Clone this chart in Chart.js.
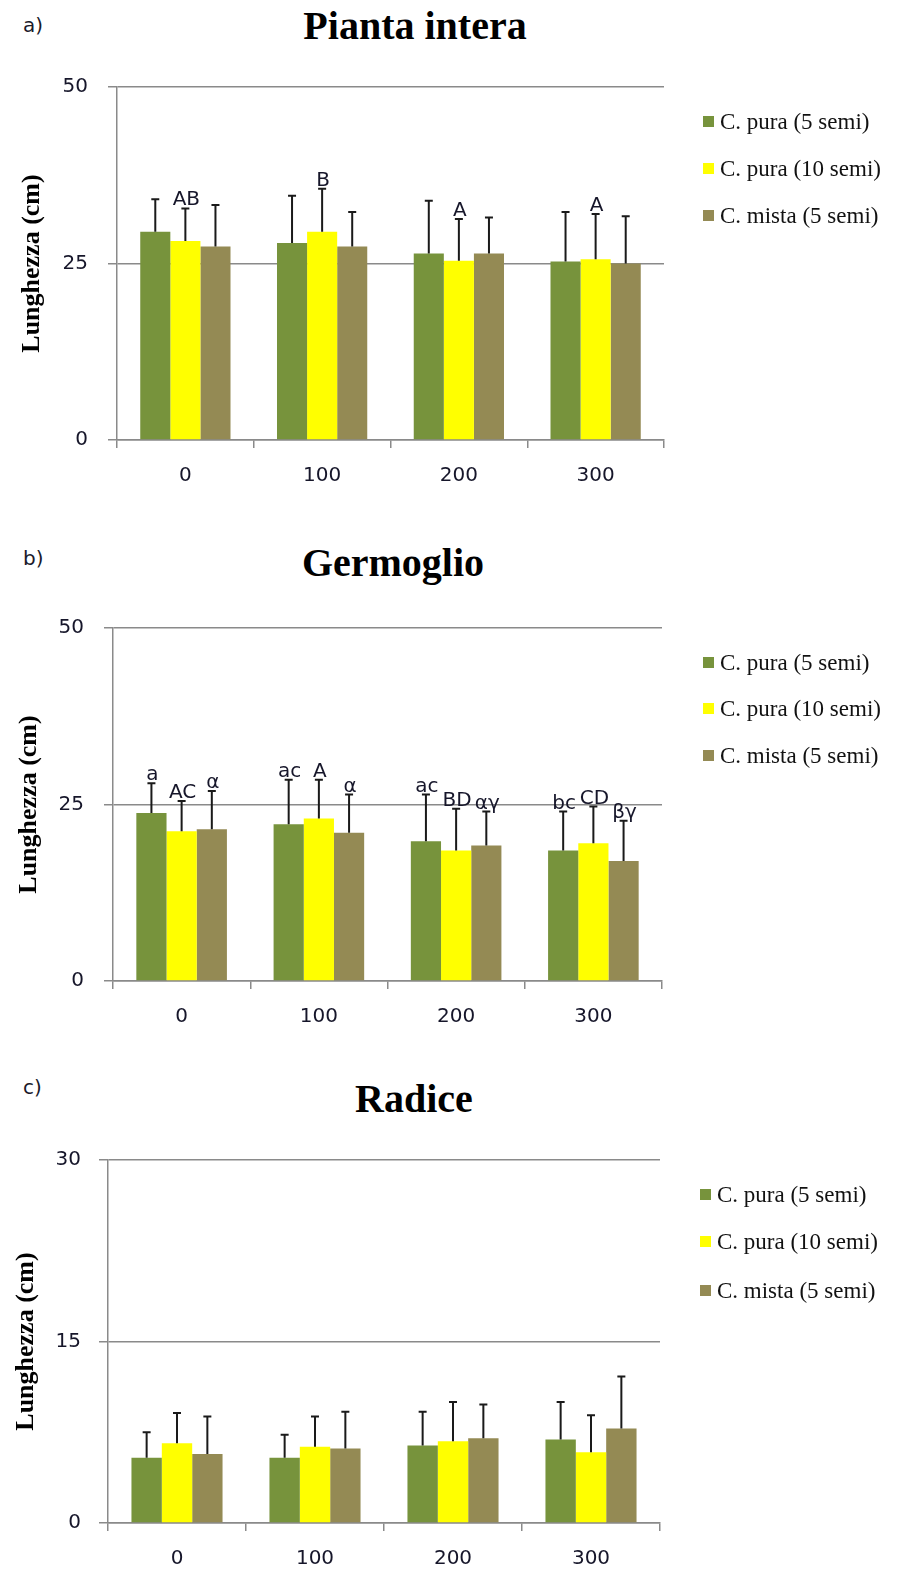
<!DOCTYPE html>
<html>
<head>
<meta charset="utf-8">
<script src="https://cdn.jsdelivr.net/npm/chart.js@4.4.1/dist/chart.umd.min.js"></script>
<style>
  body { margin: 0; background: #fff; width: 902px; height: 1569px; position: relative; overflow: hidden; }
  canvas { position: absolute; left: 0; }
  .lbl { position: absolute; left: 23px; font-family: "DejaVu Sans"; font-size: 20px; line-height: 20px; color: #1a1a2a; }
  .ttl { position: absolute; font-family: "Liberation Serif"; font-weight: bold; font-size: 40px; line-height: 40px; color: #000; transform: translateX(-50%); white-space: nowrap; }
  .leg { position: absolute; font-family: "Liberation Serif"; font-size: 23px; line-height: 23px; color: #111; display: flex; align-items: center; white-space: nowrap; }
  .leg span { display: inline-block; width: 11px; height: 11px; margin-right: 6px; }
</style>
</head>
<body>
<div class="lbl" style="top:15px">a)</div>
<div class="ttl" style="left:415px;top:6px">Pianta intera</div>
<canvas id="chartA" width="902" height="500" style="top:0px"></canvas>

<div class="lbl" style="top:548px">b)</div>
<div class="ttl" style="left:393px;top:543px">Germoglio</div>
<canvas id="chartB" width="902" height="500" style="top:540px"></canvas>

<div class="lbl" style="top:1077px">c)</div>
<div class="ttl" style="left:414px;top:1079px">Radice</div>
<canvas id="chartC" width="902" height="513" style="top:1060px"></canvas>

<div id="legends"></div>

<script>
// categories and series
const categories = ["0", "100", "200", "300"];
const seriesNames = ["C. pura (5 semi)", "C. pura (10 semi)", "C. mista (5 semi)"];
const seriesColors = ["#77933C", "#FFFF00", "#948A54"];

// a) Pianta intera
const piantaPura5 = [29.5, 27.9, 26.4, 25.3];
const piantaPura5Err = [4.6, 6.7, 7.5, 7.0];
const piantaPura10 = [28.2, 29.5, 25.4, 25.6];
const piantaPura10Err = [4.6, 6.1, 5.9, 6.4];
const piantaMista5 = [27.4, 27.4, 26.4, 25.0];
const piantaMista5Err = [5.9, 4.9, 5.1, 6.7];
const piantaMarks10 = ["AB", "B", "A", "A"];

// b) Germoglio
const germPura5 = [23.8, 22.2, 19.8, 18.5];
const germPura5Err = [4.2, 6.3, 6.6, 5.5];
const germPura10 = [21.2, 23.0, 18.5, 19.5];
const germPura10Err = [4.3, 5.5, 5.9, 5.2];
const germMista5 = [21.5, 21.0, 19.2, 17.0];
const germMista5Err = [5.4, 5.4, 4.8, 5.7];
const germMarks5 = ["a", "ac", "ac", "bc"];
const germMarks10 = ["AC", "A", "BD", "CD"];
const germMarksMista = ["α", "α", "αγ", "βγ"];

// c) Radice
const radPura5 = [5.4, 5.4, 6.4, 6.9];
const radPura5Err = [2.1, 1.9, 2.8, 3.1];
const radPura10 = [6.6, 6.3, 6.75, 5.85];
const radPura10Err = [2.5, 2.5, 3.25, 3.05];
const radMista5 = [5.7, 6.15, 7.0, 7.8];
const radMista5Err = [3.1, 3.05, 2.8, 4.3];

const axisGray = "#8a8a8a";
const tickColor = "#16162a";

// upper error bars + significance letters
const errorBars = {
  id: "errorBars",
  afterDatasetsDraw(chart) {
    const ctx = chart.ctx;
    const ys = chart.scales.y;
    chart.data.datasets.forEach((ds, i) => {
      chart.getDatasetMeta(i).data.forEach((bar, j) => {
        const top = ys.getPixelForValue(ds.data[j] + ds.err[j]);
        ctx.save();
        ctx.strokeStyle = "#1a1a1a";
        ctx.lineWidth = 2;
        ctx.beginPath();
        ctx.moveTo(bar.x, bar.y);
        ctx.lineTo(bar.x, top);
        ctx.moveTo(bar.x - 4, top);
        ctx.lineTo(bar.x + 4, top);
        ctx.stroke();
        if (ds.marks && ds.marks[j]) {
          ctx.fillStyle = tickColor;
          ctx.font = '20px "DejaVu Sans"';
          ctx.textAlign = "center";
          ctx.textBaseline = "alphabetic";
          ctx.fillText(ds.marks[j], bar.x + 1, top - 3);
        }
        ctx.restore();
      });
    });
  },
};

function panel(id, o) {
  const ctx = document.getElementById(id).getContext("2d");
  new Chart(ctx, {
    type: "bar",
    data: {
      labels: categories,
      datasets: o.values.map((v, i) => ({
        label: seriesNames[i],
        data: v,
        err: o.errs[i],
        marks: o.marks[i],
        backgroundColor: seriesColors[i],
        borderWidth: 0,
        categoryPercentage: 0.66,
        barPercentage: 1,
      })),
    },
    options: {
      responsive: false,
      animation: false,
      layout: {
        padding: { top: o.padTop, bottom: o.padBottom, left: 0, right: 902 - o.right },
      },
      plugins: {
        legend: { display: false },
        tooltip: { enabled: false },
      },
      scales: {
        x: {
          grid: { drawOnChartArea: false, color: axisGray, lineWidth: 1.5, tickLength: 8 },
          border: { color: axisGray, width: 1.5 },
          ticks: { color: tickColor, font: { family: "DejaVu Sans", size: 20 }, padding: 16 },
          afterFit: (s) => { s.height = 50; },
        },
        y: {
          min: 0,
          max: o.yMax,
          ticks: {
            stepSize: o.yStep,
            color: tickColor,
            font: { family: "DejaVu Sans", size: 20 },
            padding: o.tickPad,
          },
          grid: { color: axisGray, lineWidth: 1.5, tickLength: 9 },
          border: { color: axisGray, width: 1.5 },
          title: {
            display: true,
            text: "Lunghezza (cm)",
            color: "#000",
            font: { family: "Liberation Serif", size: 26, weight: "bold" },
            padding: { top: o.titlePad, bottom: 0 },
          },
          afterFit: (s) => { s.width = o.left; },
        },
      },
    },
    plugins: [errorBars],
  });
}

panel("chartA", {
  values: [piantaPura5, piantaPura10, piantaMista5],
  errs: [piantaPura5Err, piantaPura10Err, piantaMista5Err],
  marks: [null, piantaMarks10, null],
  yMax: 50, yStep: 25,
  left: 117, right: 664, padTop: 87, padBottom: 10, titlePad: 17, tickPad: 20,
});

panel("chartB", {
  values: [germPura5, germPura10, germMista5],
  errs: [germPura5Err, germPura10Err, germMista5Err],
  marks: [germMarks5, germMarks10, germMarksMista],
  yMax: 50, yStep: 25,
  left: 113, right: 662, padTop: 88, padBottom: 9, titlePad: 14, tickPad: 20,
});

panel("chartC", {
  values: [radPura5, radPura10, radMista5],
  errs: [radPura5Err, radPura10Err, radMista5Err],
  marks: [null, null, null],
  yMax: 30, yStep: 15,
  left: 108, right: 660, padTop: 100, padBottom: 0, titlePad: 11, tickPad: 18,
});

// legends (one per panel)
const legendSpots = [
  { x: 703, ys: [122, 169, 216] },
  { x: 703, ys: [663, 709, 756] },
  { x: 700, ys: [1195, 1242, 1291] },
];
const legendBox = document.getElementById("legends");
legendSpots.forEach((spot) => {
  seriesNames.forEach((name, i) => {
    const d = document.createElement("div");
    d.className = "leg";
    d.style.left = spot.x + "px";
    d.style.top = spot.ys[i] - 12 + "px";
    d.innerHTML = '<span style="background:' + seriesColors[i] + '"></span>' + name;
    legendBox.appendChild(d);
  });
});
</script>
</body>
</html>
